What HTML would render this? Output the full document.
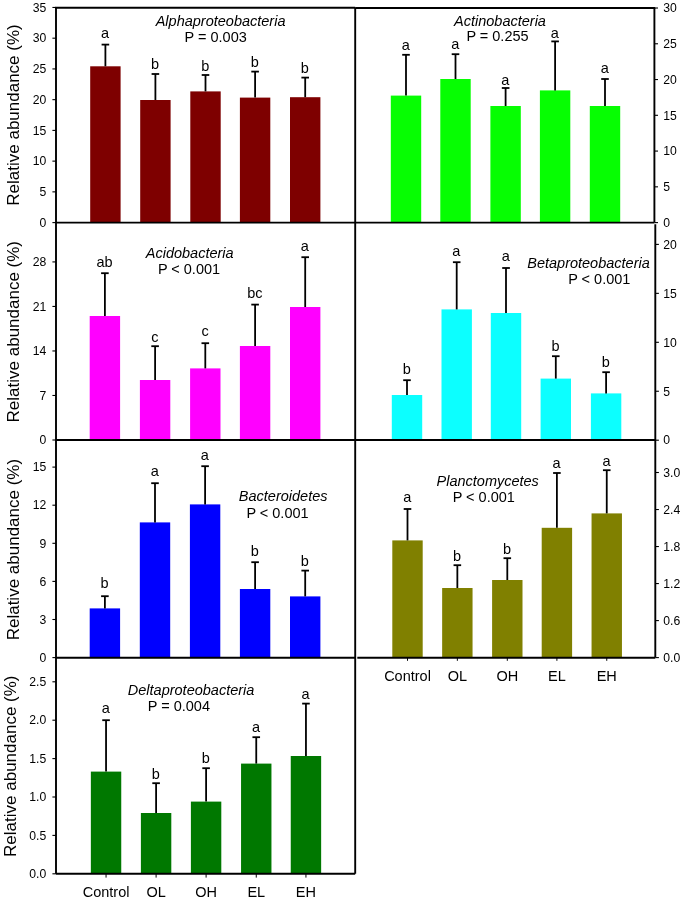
<!DOCTYPE html>
<html><head><meta charset="utf-8"><style>
html,body{margin:0;padding:0;background:#fff;}
body{width:685px;height:902px;overflow:hidden;}
svg{display:block;will-change:transform;font-family:"Liberation Sans",sans-serif;}
</style></head><body>
<svg width="685" height="902" viewBox="0 0 685 902">
<rect width="685" height="902" fill="#fff"/>
<rect x="90.20" y="66.30" width="30.40" height="156.30" fill="#7E0000"/>
<rect x="140.20" y="100.00" width="30.40" height="122.60" fill="#7E0000"/>
<rect x="190.30" y="91.40" width="30.40" height="131.20" fill="#7E0000"/>
<rect x="239.90" y="97.60" width="30.40" height="125.00" fill="#7E0000"/>
<rect x="290.00" y="97.20" width="30.40" height="125.40" fill="#7E0000"/>
<rect x="390.80" y="95.60" width="30.40" height="127.00" fill="#06FE02"/>
<rect x="440.30" y="79.00" width="30.40" height="143.60" fill="#06FE02"/>
<rect x="490.40" y="106.00" width="30.40" height="116.60" fill="#06FE02"/>
<rect x="539.90" y="90.40" width="30.40" height="132.20" fill="#06FE02"/>
<rect x="589.80" y="106.00" width="30.40" height="116.60" fill="#06FE02"/>
<rect x="89.70" y="316.00" width="30.40" height="124.00" fill="#FF00FF"/>
<rect x="139.90" y="380.00" width="30.40" height="60.00" fill="#FF00FF"/>
<rect x="190.10" y="368.40" width="30.40" height="71.60" fill="#FF00FF"/>
<rect x="239.90" y="346.00" width="30.40" height="94.00" fill="#FF00FF"/>
<rect x="290.00" y="307.00" width="30.40" height="133.00" fill="#FF00FF"/>
<rect x="391.80" y="395.00" width="30.40" height="45.00" fill="#0CFFFF"/>
<rect x="441.50" y="309.40" width="30.40" height="130.60" fill="#0CFFFF"/>
<rect x="490.80" y="313.00" width="30.40" height="127.00" fill="#0CFFFF"/>
<rect x="540.60" y="378.60" width="30.40" height="61.40" fill="#0CFFFF"/>
<rect x="590.90" y="393.40" width="30.40" height="46.60" fill="#0CFFFF"/>
<rect x="89.70" y="608.40" width="30.40" height="49.20" fill="#0000FF"/>
<rect x="139.80" y="522.40" width="30.40" height="135.20" fill="#0000FF"/>
<rect x="189.90" y="504.40" width="30.40" height="153.20" fill="#0000FF"/>
<rect x="239.90" y="589.00" width="30.40" height="68.60" fill="#0000FF"/>
<rect x="290.00" y="596.40" width="30.40" height="61.20" fill="#0000FF"/>
<rect x="392.30" y="540.40" width="30.40" height="117.20" fill="#808000"/>
<rect x="442.15" y="588.00" width="30.40" height="69.60" fill="#808000"/>
<rect x="492.10" y="580.00" width="30.40" height="77.60" fill="#808000"/>
<rect x="541.70" y="527.80" width="30.40" height="129.80" fill="#808000"/>
<rect x="591.55" y="513.40" width="30.40" height="144.20" fill="#808000"/>
<rect x="90.85" y="771.60" width="30.40" height="102.20" fill="#007800"/>
<rect x="140.90" y="813.00" width="30.40" height="60.80" fill="#007800"/>
<rect x="190.90" y="801.60" width="30.40" height="72.20" fill="#007800"/>
<rect x="241.05" y="763.60" width="30.40" height="110.20" fill="#007800"/>
<rect x="290.75" y="756.00" width="30.40" height="117.80" fill="#007800"/>
<g stroke="#000" fill="none">
<line x1="56.0" y1="7.7" x2="56.0" y2="873.8" stroke-width="1.9"/>
<line x1="355.2" y1="7.7" x2="355.2" y2="873.8" stroke-width="1.9"/>
<line x1="55.2" y1="7.7" x2="355.2" y2="7.7" stroke-width="1.9"/>
<line x1="355.2" y1="8.0" x2="655.1999999999999" y2="8.0" stroke-width="1.9"/>
<line x1="654.4" y1="8.0" x2="654.4" y2="222.6" stroke-width="1.9"/>
<line x1="655.3" y1="224.3" x2="655.3" y2="657.6" stroke-width="1.9"/>
<line x1="56.0" y1="222.6" x2="654.4" y2="222.6" stroke-width="1.9"/>
<line x1="56.0" y1="440.0" x2="655.3" y2="440.0" stroke-width="1.9"/>
<line x1="56.0" y1="657.7" x2="355.2" y2="657.7" stroke-width="1.9"/>
<line x1="357.3" y1="657.7" x2="655.3" y2="657.7" stroke-width="1.9"/>
<line x1="56.0" y1="873.8" x2="355.2" y2="873.8" stroke-width="1.9"/>
<line x1="52.4" y1="222.6" x2="56.0" y2="222.6" stroke-width="1.1"/>
<line x1="52.4" y1="191.865" x2="56.0" y2="191.865" stroke-width="1.1"/>
<line x1="52.4" y1="161.13" x2="56.0" y2="161.13" stroke-width="1.1"/>
<line x1="52.4" y1="130.39499999999998" x2="56.0" y2="130.39499999999998" stroke-width="1.1"/>
<line x1="52.4" y1="99.66" x2="56.0" y2="99.66" stroke-width="1.1"/>
<line x1="52.4" y1="68.92499999999998" x2="56.0" y2="68.92499999999998" stroke-width="1.1"/>
<line x1="52.4" y1="38.19" x2="56.0" y2="38.19" stroke-width="1.1"/>
<line x1="52.4" y1="7.454999999999984" x2="56.0" y2="7.454999999999984" stroke-width="1.1"/>
<line x1="52.4" y1="440.0" x2="56.0" y2="440.0" stroke-width="1.1"/>
<line x1="52.4" y1="395.48" x2="56.0" y2="395.48" stroke-width="1.1"/>
<line x1="52.4" y1="350.96" x2="56.0" y2="350.96" stroke-width="1.1"/>
<line x1="52.4" y1="306.44" x2="56.0" y2="306.44" stroke-width="1.1"/>
<line x1="52.4" y1="261.91999999999996" x2="56.0" y2="261.91999999999996" stroke-width="1.1"/>
<line x1="52.4" y1="657.6" x2="56.0" y2="657.6" stroke-width="1.1"/>
<line x1="52.4" y1="619.5" x2="56.0" y2="619.5" stroke-width="1.1"/>
<line x1="52.4" y1="581.4000000000001" x2="56.0" y2="581.4000000000001" stroke-width="1.1"/>
<line x1="52.4" y1="543.3000000000001" x2="56.0" y2="543.3000000000001" stroke-width="1.1"/>
<line x1="52.4" y1="505.20000000000005" x2="56.0" y2="505.20000000000005" stroke-width="1.1"/>
<line x1="52.4" y1="467.1" x2="56.0" y2="467.1" stroke-width="1.1"/>
<line x1="52.4" y1="873.8" x2="56.0" y2="873.8" stroke-width="1.1"/>
<line x1="52.4" y1="835.4" x2="56.0" y2="835.4" stroke-width="1.1"/>
<line x1="52.4" y1="797.0" x2="56.0" y2="797.0" stroke-width="1.1"/>
<line x1="52.4" y1="758.5999999999999" x2="56.0" y2="758.5999999999999" stroke-width="1.1"/>
<line x1="52.4" y1="720.1999999999999" x2="56.0" y2="720.1999999999999" stroke-width="1.1"/>
<line x1="52.4" y1="681.8" x2="56.0" y2="681.8" stroke-width="1.1"/>
<line x1="654.4" y1="222.6" x2="658.0" y2="222.6" stroke-width="1.1"/>
<line x1="654.4" y1="186.83499999999998" x2="658.0" y2="186.83499999999998" stroke-width="1.1"/>
<line x1="654.4" y1="151.07" x2="658.0" y2="151.07" stroke-width="1.1"/>
<line x1="654.4" y1="115.305" x2="658.0" y2="115.305" stroke-width="1.1"/>
<line x1="654.4" y1="79.53999999999999" x2="658.0" y2="79.53999999999999" stroke-width="1.1"/>
<line x1="654.4" y1="43.775000000000006" x2="658.0" y2="43.775000000000006" stroke-width="1.1"/>
<line x1="654.4" y1="8.01000000000002" x2="658.0" y2="8.01000000000002" stroke-width="1.1"/>
<line x1="655.3" y1="440.2" x2="658.9" y2="440.2" stroke-width="1.1"/>
<line x1="655.3" y1="391.25" x2="658.9" y2="391.25" stroke-width="1.1"/>
<line x1="655.3" y1="342.3" x2="658.9" y2="342.3" stroke-width="1.1"/>
<line x1="655.3" y1="293.35" x2="658.9" y2="293.35" stroke-width="1.1"/>
<line x1="655.3" y1="244.4" x2="658.9" y2="244.4" stroke-width="1.1"/>
<line x1="655.3" y1="657.6" x2="658.9" y2="657.6" stroke-width="1.1"/>
<line x1="655.3" y1="620.58" x2="658.9" y2="620.58" stroke-width="1.1"/>
<line x1="655.3" y1="583.5600000000001" x2="658.9" y2="583.5600000000001" stroke-width="1.1"/>
<line x1="655.3" y1="546.5400000000001" x2="658.9" y2="546.5400000000001" stroke-width="1.1"/>
<line x1="655.3" y1="509.52" x2="658.9" y2="509.52" stroke-width="1.1"/>
<line x1="655.3" y1="472.5" x2="658.9" y2="472.5" stroke-width="1.1"/>
<line x1="407.5" y1="657.7" x2="407.5" y2="660.8" stroke-width="1.0"/>
<line x1="457.35" y1="657.7" x2="457.35" y2="660.8" stroke-width="1.0"/>
<line x1="507.3" y1="657.7" x2="507.3" y2="660.8" stroke-width="1.0"/>
<line x1="556.9" y1="657.7" x2="556.9" y2="660.8" stroke-width="1.0"/>
<line x1="606.75" y1="657.7" x2="606.75" y2="660.8" stroke-width="1.0"/>
<line x1="106.05" y1="873.8" x2="106.05" y2="877.6" stroke-width="1.0"/>
<line x1="156.1" y1="873.8" x2="156.1" y2="877.6" stroke-width="1.0"/>
<line x1="206.1" y1="873.8" x2="206.1" y2="877.6" stroke-width="1.0"/>
<line x1="256.25" y1="873.8" x2="256.25" y2="877.6" stroke-width="1.0"/>
<line x1="305.95" y1="873.8" x2="305.95" y2="877.6" stroke-width="1.0"/>
<line x1="105.4" y1="66.3" x2="105.4" y2="44.6" stroke-width="1.8"/>
<line x1="101.60000000000001" y1="44.6" x2="109.2" y2="44.6" stroke-width="1.8"/>
<line x1="155.4" y1="100" x2="155.4" y2="74" stroke-width="1.8"/>
<line x1="151.6" y1="74" x2="159.20000000000002" y2="74" stroke-width="1.8"/>
<line x1="205.5" y1="91.4" x2="205.5" y2="75" stroke-width="1.8"/>
<line x1="201.7" y1="75" x2="209.3" y2="75" stroke-width="1.8"/>
<line x1="255.1" y1="97.6" x2="255.1" y2="71.6" stroke-width="1.8"/>
<line x1="251.29999999999998" y1="71.6" x2="258.9" y2="71.6" stroke-width="1.8"/>
<line x1="305.2" y1="97.2" x2="305.2" y2="77.6" stroke-width="1.8"/>
<line x1="301.4" y1="77.6" x2="309.0" y2="77.6" stroke-width="1.8"/>
<line x1="406" y1="95.6" x2="406" y2="54.8" stroke-width="1.8"/>
<line x1="402.2" y1="54.8" x2="409.8" y2="54.8" stroke-width="1.8"/>
<line x1="455.5" y1="79" x2="455.5" y2="54.2" stroke-width="1.8"/>
<line x1="451.7" y1="54.2" x2="459.3" y2="54.2" stroke-width="1.8"/>
<line x1="505.6" y1="106" x2="505.6" y2="88" stroke-width="1.8"/>
<line x1="501.8" y1="88" x2="509.40000000000003" y2="88" stroke-width="1.8"/>
<line x1="555.1" y1="90.4" x2="555.1" y2="41.4" stroke-width="1.8"/>
<line x1="551.3000000000001" y1="41.4" x2="558.9" y2="41.4" stroke-width="1.8"/>
<line x1="605" y1="106" x2="605" y2="79" stroke-width="1.8"/>
<line x1="601.2" y1="79" x2="608.8" y2="79" stroke-width="1.8"/>
<line x1="104.9" y1="316" x2="104.9" y2="273.2" stroke-width="1.8"/>
<line x1="101.10000000000001" y1="273.2" x2="108.7" y2="273.2" stroke-width="1.8"/>
<line x1="155.1" y1="380" x2="155.1" y2="346.2" stroke-width="1.8"/>
<line x1="151.29999999999998" y1="346.2" x2="158.9" y2="346.2" stroke-width="1.8"/>
<line x1="205.3" y1="368.4" x2="205.3" y2="343.2" stroke-width="1.8"/>
<line x1="201.5" y1="343.2" x2="209.10000000000002" y2="343.2" stroke-width="1.8"/>
<line x1="255.1" y1="346" x2="255.1" y2="304.6" stroke-width="1.8"/>
<line x1="251.29999999999998" y1="304.6" x2="258.9" y2="304.6" stroke-width="1.8"/>
<line x1="305.2" y1="307" x2="305.2" y2="257.2" stroke-width="1.8"/>
<line x1="301.4" y1="257.2" x2="309.0" y2="257.2" stroke-width="1.8"/>
<line x1="407" y1="395" x2="407" y2="380.2" stroke-width="1.8"/>
<line x1="403.2" y1="380.2" x2="410.8" y2="380.2" stroke-width="1.8"/>
<line x1="456.7" y1="309.4" x2="456.7" y2="262.2" stroke-width="1.8"/>
<line x1="452.9" y1="262.2" x2="460.5" y2="262.2" stroke-width="1.8"/>
<line x1="506" y1="313" x2="506" y2="268" stroke-width="1.8"/>
<line x1="502.2" y1="268" x2="509.8" y2="268" stroke-width="1.8"/>
<line x1="555.8" y1="378.6" x2="555.8" y2="356.2" stroke-width="1.8"/>
<line x1="552.0" y1="356.2" x2="559.5999999999999" y2="356.2" stroke-width="1.8"/>
<line x1="606.1" y1="393.4" x2="606.1" y2="372.2" stroke-width="1.8"/>
<line x1="602.3000000000001" y1="372.2" x2="609.9" y2="372.2" stroke-width="1.8"/>
<line x1="104.9" y1="608.4" x2="104.9" y2="596.2" stroke-width="1.8"/>
<line x1="101.10000000000001" y1="596.2" x2="108.7" y2="596.2" stroke-width="1.8"/>
<line x1="155.0" y1="522.4" x2="155.0" y2="483.2" stroke-width="1.8"/>
<line x1="151.2" y1="483.2" x2="158.8" y2="483.2" stroke-width="1.8"/>
<line x1="205.1" y1="504.4" x2="205.1" y2="466.2" stroke-width="1.8"/>
<line x1="201.29999999999998" y1="466.2" x2="208.9" y2="466.2" stroke-width="1.8"/>
<line x1="255.1" y1="589" x2="255.1" y2="562.2" stroke-width="1.8"/>
<line x1="251.29999999999998" y1="562.2" x2="258.9" y2="562.2" stroke-width="1.8"/>
<line x1="305.2" y1="596.4" x2="305.2" y2="570.6" stroke-width="1.8"/>
<line x1="301.4" y1="570.6" x2="309.0" y2="570.6" stroke-width="1.8"/>
<line x1="407.5" y1="540.4" x2="407.5" y2="509" stroke-width="1.8"/>
<line x1="403.7" y1="509" x2="411.3" y2="509" stroke-width="1.8"/>
<line x1="457.35" y1="588" x2="457.35" y2="565.2" stroke-width="1.8"/>
<line x1="453.55" y1="565.2" x2="461.15000000000003" y2="565.2" stroke-width="1.8"/>
<line x1="507.3" y1="580" x2="507.3" y2="558.2" stroke-width="1.8"/>
<line x1="503.5" y1="558.2" x2="511.1" y2="558.2" stroke-width="1.8"/>
<line x1="556.9" y1="527.8" x2="556.9" y2="473" stroke-width="1.8"/>
<line x1="553.1" y1="473" x2="560.6999999999999" y2="473" stroke-width="1.8"/>
<line x1="606.75" y1="513.4" x2="606.75" y2="470.2" stroke-width="1.8"/>
<line x1="602.95" y1="470.2" x2="610.55" y2="470.2" stroke-width="1.8"/>
<line x1="106.05" y1="771.6" x2="106.05" y2="720.2" stroke-width="1.8"/>
<line x1="102.25" y1="720.2" x2="109.85" y2="720.2" stroke-width="1.8"/>
<line x1="156.1" y1="813" x2="156.1" y2="783.2" stroke-width="1.8"/>
<line x1="152.29999999999998" y1="783.2" x2="159.9" y2="783.2" stroke-width="1.8"/>
<line x1="206.1" y1="801.6" x2="206.1" y2="768.2" stroke-width="1.8"/>
<line x1="202.29999999999998" y1="768.2" x2="209.9" y2="768.2" stroke-width="1.8"/>
<line x1="256.25" y1="763.6" x2="256.25" y2="737.2" stroke-width="1.8"/>
<line x1="252.45" y1="737.2" x2="260.05" y2="737.2" stroke-width="1.8"/>
<line x1="305.95" y1="756" x2="305.95" y2="703.6" stroke-width="1.8"/>
<line x1="302.15" y1="703.6" x2="309.75" y2="703.6" stroke-width="1.8"/>
</g>
<g fill="#000">
<text x="46.20" y="226.85" text-anchor="end" font-size="12.2">0</text>
<text x="46.20" y="196.12" text-anchor="end" font-size="12.2">5</text>
<text x="46.20" y="165.38" text-anchor="end" font-size="12.2">10</text>
<text x="46.20" y="134.64" text-anchor="end" font-size="12.2">15</text>
<text x="46.20" y="103.91" text-anchor="end" font-size="12.2">20</text>
<text x="46.20" y="73.17" text-anchor="end" font-size="12.2">25</text>
<text x="46.20" y="42.44" text-anchor="end" font-size="12.2">30</text>
<text x="46.20" y="11.70" text-anchor="end" font-size="12.2">35</text>
<text x="46.20" y="444.25" text-anchor="end" font-size="12.2">0</text>
<text x="46.20" y="399.73" text-anchor="end" font-size="12.2">7</text>
<text x="46.20" y="355.21" text-anchor="end" font-size="12.2">14</text>
<text x="46.20" y="310.69" text-anchor="end" font-size="12.2">21</text>
<text x="46.20" y="266.17" text-anchor="end" font-size="12.2">28</text>
<text x="46.20" y="661.85" text-anchor="end" font-size="12.2">0</text>
<text x="46.20" y="623.75" text-anchor="end" font-size="12.2">3</text>
<text x="46.20" y="585.65" text-anchor="end" font-size="12.2">6</text>
<text x="46.20" y="547.55" text-anchor="end" font-size="12.2">9</text>
<text x="46.20" y="509.45" text-anchor="end" font-size="12.2">12</text>
<text x="46.20" y="471.35" text-anchor="end" font-size="12.2">15</text>
<text x="46.20" y="878.05" text-anchor="end" font-size="12.2">0.0</text>
<text x="46.20" y="839.65" text-anchor="end" font-size="12.2">0.5</text>
<text x="46.20" y="801.25" text-anchor="end" font-size="12.2">1.0</text>
<text x="46.20" y="762.85" text-anchor="end" font-size="12.2">1.5</text>
<text x="46.20" y="724.45" text-anchor="end" font-size="12.2">2.0</text>
<text x="46.20" y="686.05" text-anchor="end" font-size="12.2">2.5</text>
<text x="663.30" y="226.85" text-anchor="start" font-size="12.2">0</text>
<text x="663.30" y="191.08" text-anchor="start" font-size="12.2">5</text>
<text x="663.30" y="155.32" text-anchor="start" font-size="12.2">10</text>
<text x="663.30" y="119.56" text-anchor="start" font-size="12.2">15</text>
<text x="663.30" y="83.79" text-anchor="start" font-size="12.2">20</text>
<text x="663.30" y="48.03" text-anchor="start" font-size="12.2">25</text>
<text x="663.30" y="12.26" text-anchor="start" font-size="12.2">30</text>
<text x="663.30" y="444.45" text-anchor="start" font-size="12.2">0</text>
<text x="663.30" y="395.50" text-anchor="start" font-size="12.2">5</text>
<text x="663.30" y="346.55" text-anchor="start" font-size="12.2">10</text>
<text x="663.30" y="297.60" text-anchor="start" font-size="12.2">15</text>
<text x="663.30" y="248.65" text-anchor="start" font-size="12.2">20</text>
<text x="663.30" y="661.85" text-anchor="start" font-size="12.2">0.0</text>
<text x="663.30" y="624.83" text-anchor="start" font-size="12.2">0.6</text>
<text x="663.30" y="587.81" text-anchor="start" font-size="12.2">1.2</text>
<text x="663.30" y="550.79" text-anchor="start" font-size="12.2">1.8</text>
<text x="663.30" y="513.77" text-anchor="start" font-size="12.2">2.4</text>
<text x="663.30" y="476.75" text-anchor="start" font-size="12.2">3.0</text>
<text x="105.10" y="38.20" text-anchor="middle" font-size="14.5">a</text>
<text x="155.10" y="68.80" text-anchor="middle" font-size="14.5">b</text>
<text x="205.20" y="70.90" text-anchor="middle" font-size="14.5">b</text>
<text x="254.80" y="67.00" text-anchor="middle" font-size="14.5">b</text>
<text x="304.90" y="73.00" text-anchor="middle" font-size="14.5">b</text>
<text x="220.60" y="26.00" text-anchor="middle" font-size="14.5" font-style="italic">Alphaproteobacteria</text>
<text x="215.70" y="42.00" text-anchor="middle" font-size="14.5">P = 0.003</text>
<text x="405.70" y="50.00" text-anchor="middle" font-size="14.5">a</text>
<text x="455.20" y="49.40" text-anchor="middle" font-size="14.5">a</text>
<text x="505.30" y="85.00" text-anchor="middle" font-size="14.5">a</text>
<text x="554.80" y="38.00" text-anchor="middle" font-size="14.5">a</text>
<text x="604.70" y="73.00" text-anchor="middle" font-size="14.5">a</text>
<text x="500.00" y="25.60" text-anchor="middle" font-size="14.5" font-style="italic">Actinobacteria</text>
<text x="497.50" y="41.40" text-anchor="middle" font-size="14.5">P = 0.255</text>
<text x="104.60" y="267.40" text-anchor="middle" font-size="14.5">ab</text>
<text x="154.80" y="341.60" text-anchor="middle" font-size="14.5">c</text>
<text x="205.00" y="336.00" text-anchor="middle" font-size="14.5">c</text>
<text x="254.80" y="298.00" text-anchor="middle" font-size="14.5">bc</text>
<text x="304.90" y="250.60" text-anchor="middle" font-size="14.5">a</text>
<text x="189.70" y="258.00" text-anchor="middle" font-size="14.5" font-style="italic">Acidobacteria</text>
<text x="189.00" y="274.40" text-anchor="middle" font-size="14.5">P &lt; 0.001</text>
<text x="406.70" y="374.40" text-anchor="middle" font-size="14.5">b</text>
<text x="456.40" y="256.00" text-anchor="middle" font-size="14.5">a</text>
<text x="505.70" y="260.60" text-anchor="middle" font-size="14.5">a</text>
<text x="555.50" y="351.00" text-anchor="middle" font-size="14.5">b</text>
<text x="605.80" y="367.00" text-anchor="middle" font-size="14.5">b</text>
<text x="588.50" y="267.50" text-anchor="middle" font-size="14.5" font-style="italic">Betaproteobacteria</text>
<text x="599.30" y="284.00" text-anchor="middle" font-size="14.5">P &lt; 0.001</text>
<text x="104.60" y="588.00" text-anchor="middle" font-size="14.5">b</text>
<text x="154.70" y="476.00" text-anchor="middle" font-size="14.5">a</text>
<text x="204.80" y="460.40" text-anchor="middle" font-size="14.5">a</text>
<text x="254.80" y="556.00" text-anchor="middle" font-size="14.5">b</text>
<text x="304.90" y="566.00" text-anchor="middle" font-size="14.5">b</text>
<text x="283.20" y="501.40" text-anchor="middle" font-size="14.5" font-style="italic">Bacteroidetes</text>
<text x="277.50" y="518.00" text-anchor="middle" font-size="14.5">P &lt; 0.001</text>
<text x="407.20" y="502.00" text-anchor="middle" font-size="14.5">a</text>
<text x="457.05" y="561.00" text-anchor="middle" font-size="14.5">b</text>
<text x="507.00" y="554.00" text-anchor="middle" font-size="14.5">b</text>
<text x="556.60" y="467.60" text-anchor="middle" font-size="14.5">a</text>
<text x="606.45" y="466.00" text-anchor="middle" font-size="14.5">a</text>
<text x="487.70" y="485.60" text-anchor="middle" font-size="14.5" font-style="italic">Planctomycetes</text>
<text x="483.80" y="502.00" text-anchor="middle" font-size="14.5">P &lt; 0.001</text>
<text x="105.75" y="713.40" text-anchor="middle" font-size="14.5">a</text>
<text x="155.80" y="778.60" text-anchor="middle" font-size="14.5">b</text>
<text x="205.80" y="762.60" text-anchor="middle" font-size="14.5">b</text>
<text x="255.95" y="731.60" text-anchor="middle" font-size="14.5">a</text>
<text x="305.65" y="698.60" text-anchor="middle" font-size="14.5">a</text>
<text x="191.10" y="694.80" text-anchor="middle" font-size="14.5" font-style="italic">Deltaproteobacteria</text>
<text x="178.90" y="711.00" text-anchor="middle" font-size="14.5">P = 0.004</text>
<text x="407.50" y="681.00" text-anchor="middle" font-size="14.5">Control</text>
<text x="457.35" y="681.00" text-anchor="middle" font-size="14.5">OL</text>
<text x="507.30" y="681.00" text-anchor="middle" font-size="14.5">OH</text>
<text x="556.90" y="681.00" text-anchor="middle" font-size="14.5">EL</text>
<text x="606.75" y="681.00" text-anchor="middle" font-size="14.5">EH</text>
<text x="106.05" y="897.40" text-anchor="middle" font-size="14.5">Control</text>
<text x="156.10" y="897.40" text-anchor="middle" font-size="14.5">OL</text>
<text x="206.10" y="897.40" text-anchor="middle" font-size="14.5">OH</text>
<text x="256.25" y="897.40" text-anchor="middle" font-size="14.5">EL</text>
<text x="305.95" y="897.40" text-anchor="middle" font-size="14.5">EH</text>
<text x="0" y="0" transform="translate(19.2,115.0) rotate(-90)" text-anchor="middle" font-size="17">Relative abundance (%)</text>
<text x="0" y="0" transform="translate(19.2,331.7) rotate(-90)" text-anchor="middle" font-size="17">Relative abundance (%)</text>
<text x="0" y="0" transform="translate(19.2,549.6) rotate(-90)" text-anchor="middle" font-size="17">Relative abundance (%)</text>
<text x="0" y="0" transform="translate(16.2,766.2) rotate(-90)" text-anchor="middle" font-size="17">Relative abundance (%)</text>
</g>
</svg>
</body></html>
